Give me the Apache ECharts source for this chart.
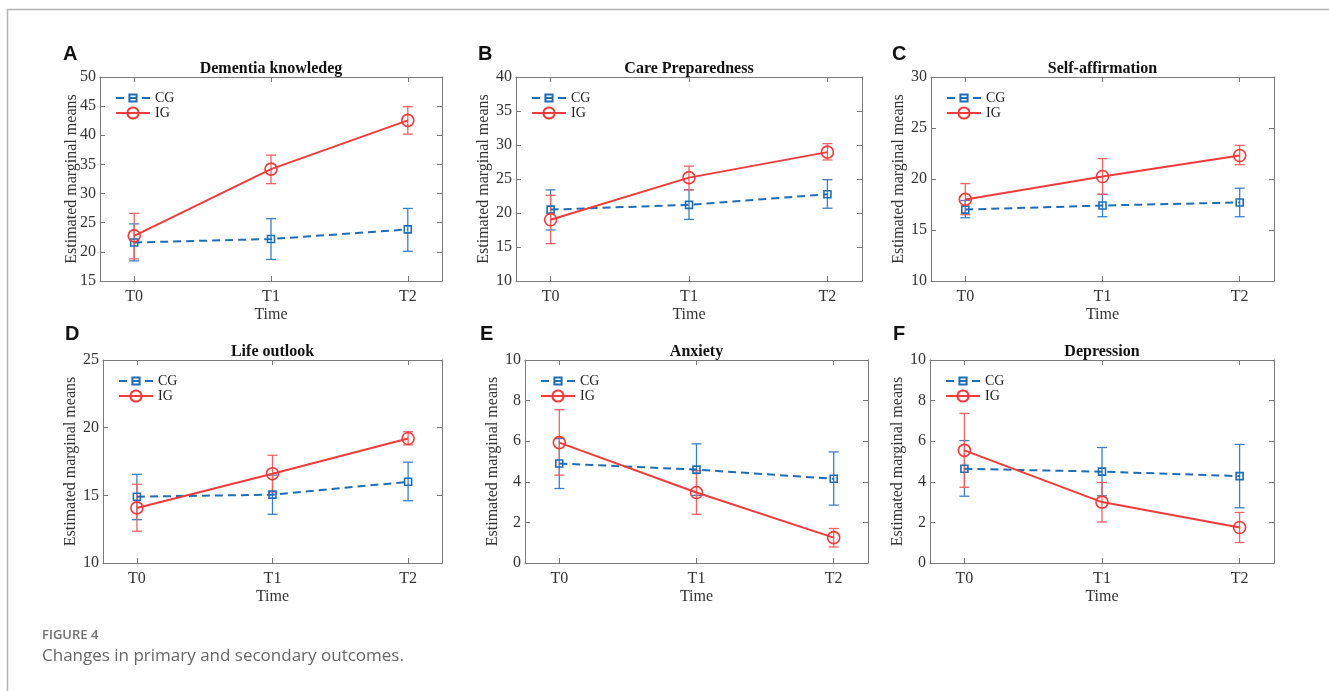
<!DOCTYPE html>
<html><head><meta charset="utf-8">
<script src="https://cdn.jsdelivr.net/npm/echarts@6/dist/echarts.min.js"></script>
<style>html,body{margin:0;padding:0;background:#fff}#c{width:1329px;height:691px}</style>
</head><body><div id="c"></div>
<script>
// ---------- data ----------
const timeLabels = ['T0', 'T1', 'T2'];
const timeValues = [0, 1, 2];
const panelLetters = ['A', 'B', 'C', 'D', 'E', 'F'];
const panelTitles = ['Dementia knowledeg', 'Care Preparedness', 'Self-affirmation', 'Life outlook', 'Anxiety', 'Depression'];
const yMin = [15, 10, 10, 10, 0, 0];
const yMax = [50, 40, 30, 25, 10, 10];
const yStep = [5, 5, 5, 5, 2, 2];

const cgMean = [[21.6, 22.2, 23.85], [20.5, 21.2, 22.75], [17.0, 17.4, 17.7], [14.9, 15.05, 16.0], [4.9, 4.6, 4.15], [4.64, 4.5, 4.28]];
const cgLow  = [[18.45, 18.7, 20.1], [17.5, 19.05, 20.7], [16.2, 16.3, 16.3], [13.2, 13.6, 14.6], [3.67, 3.33, 2.85], [3.29, 3.31, 2.72]];
const cgHigh = [[24.8, 25.7, 27.45], [23.4, 23.4, 24.9], [17.9, 18.5, 19.1], [16.55, 16.5, 17.45], [6.13, 5.87, 5.47], [6.03, 5.69, 5.84]];
const igMean = [[22.75, 34.2, 42.55], [19.0, 25.2, 28.95], [18.0, 20.25, 22.3], [14.07, 16.6, 19.2], [5.93, 3.47, 1.25], [5.55, 3.0, 1.75]];
const igLow  = [[18.8, 31.7, 40.2], [15.5, 23.4, 27.8], [16.5, 18.5, 21.4], [12.35, 15.25, 18.73], [4.33, 2.4, 0.79], [3.73, 2.02, 1.01]];
const igHigh = [[26.6, 36.6, 44.9], [22.6, 26.9, 30.2], [19.55, 22.0, 23.3], [15.82, 17.96, 19.7], [7.55, 4.55, 1.7], [7.37, 3.97, 2.49]];

// ---------- layout & style ----------
const gridBoxes = [[100, 77, 342, 204], [516, 77, 346, 204], [931, 77, 343, 204],
                   [103, 360, 339, 203], [525, 360, 343, 203], [930, 360, 344, 203]];
const yNameGaps = [20, 22, 22, 22, 22, 22];
const yNameMove = [false, true, true, true, true, true];
const letterPos = [[63, 55], [478, 55], [892, 55], [65, 335], [480, 335], [893, 335]];
const BLUE = '#1f6db5', BLUE_ERR = '#3a80c6';
const RED = '#ef3b3b', RED_ERR = '#f06464';
const AXIS = '#7a7a7a';
const SERIF = '"Liberation Serif", "Times New Roman", serif';

function errItem(color) {
  return function (params, api) {
    const x = api.value(0), lo = api.value(1), hi = api.value(2);
    const p1 = api.coord([x, lo]), p2 = api.coord([x, hi]);
    const w = 5, st = { stroke: color, lineWidth: 1.3 };
    return { type: 'group', children: [
      { type: 'line', shape: { x1: p1[0], y1: p1[1], x2: p2[0], y2: p2[1] }, style: st },
      { type: 'line', shape: { x1: p1[0] - w, y1: p1[1], x2: p1[0] + w, y2: p1[1] }, style: st },
      { type: 'line', shape: { x1: p2[0] - w, y1: p2[1], x2: p2[0] + w, y2: p2[1] }, style: st }
    ]};
  };
}

const grid = [], xAxis = [], yAxis = [], series = [], title = [], legend = [], graphic = [];

gridBoxes.forEach((b, i) => {
  grid.push({ left: b[0], top: b[1], width: b[2], height: b[3] });
  const axisLine = { show: true, onZero: false, lineStyle: { color: AXIS, width: 1 } };
  xAxis.push({
    type: 'value', gridIndex: i, position: 'bottom', min: -0.25, max: 2.25,
    axisLine, splitLine: { show: false },
    axisTick: { inside: true, length: 5, lineStyle: { color: AXIS }, customValues: timeValues },
    axisLabel: { customValues: timeValues, formatter: v => timeLabels[Math.round(v)], margin: 8,
                 fontFamily: SERIF, fontSize: 16, color: '#333' },
    name: 'Time', nameLocation: 'middle', nameGap: 26,
    nameTextStyle: { fontFamily: SERIF, fontSize: 16, color: '#333' }
  });
  xAxis.push({
    type: 'value', gridIndex: i, position: 'top', min: -0.25, max: 2.25,
    axisLine, splitLine: { show: false },
    axisTick: { inside: true, length: 5, lineStyle: { color: AXIS }, customValues: timeValues },
    axisLabel: { show: false, customValues: timeValues }
  });
  yAxis.push({
    type: 'value', gridIndex: i, position: 'left', min: yMin[i], max: yMax[i], interval: yStep[i],
    axisLine, splitLine: { show: false },
    axisTick: { inside: true, length: 5, lineStyle: { color: AXIS } },
    axisLabel: { margin: 4, fontFamily: SERIF, fontSize: 16, color: '#333' },
    name: 'Estimated marginal means', nameLocation: 'middle', nameGap: yNameGaps[i],
    nameMoveOverlap: yNameMove[i],
    nameTextStyle: { fontFamily: SERIF, fontSize: 16, color: '#333' }
  });
  yAxis.push({
    type: 'value', gridIndex: i, position: 'right', min: yMin[i], max: yMax[i], interval: yStep[i],
    axisLine, splitLine: { show: false },
    axisTick: { inside: true, length: 5, lineStyle: { color: AXIS } },
    axisLabel: { show: false }
  });

  const xi = 2 * i, yi = 2 * i;
  series.push({
    type: 'custom', name: 'CG err', xAxisIndex: xi, yAxisIndex: yi, renderItem: errItem(BLUE_ERR),
    encode: { x: 0, y: [1, 2] }, silent: true, z: 2,
    data: timeValues.map((t, k) => [t, cgLow[i][k], cgHigh[i][k]])
  });
  series.push({
    type: 'custom', name: 'IG err', xAxisIndex: xi, yAxisIndex: yi, renderItem: errItem(RED_ERR),
    encode: { x: 0, y: [1, 2] }, silent: true, z: 2,
    data: timeValues.map((t, k) => [t, igLow[i][k], igHigh[i][k]])
  });
  series.push({
    type: 'line', name: 'CG', xAxisIndex: xi, yAxisIndex: yi, z: 3,
    data: timeValues.map((t, k) => [t, cgMean[i][k]]),
    symbol: 'rect', symbolSize: 7, color: BLUE,
    itemStyle: { color: 'rgba(255,255,255,0)', borderColor: BLUE, borderWidth: 1.6 },
    lineStyle: { color: BLUE, width: 2, type: [8, 5] },
    emphasis: { disabled: true }, animation: false
  });
  series.push({
    type: 'line', name: 'IG', xAxisIndex: xi, yAxisIndex: yi, z: 3,
    data: timeValues.map((t, k) => [t, igMean[i][k]]),
    symbol: 'circle', symbolSize: 12, color: RED,
    itemStyle: { color: 'rgba(255,255,255,0)', borderColor: RED, borderWidth: 1.6 },
    lineStyle: { color: RED, width: 2 },
    emphasis: { disabled: true }, animation: false
  });

  title.push({
    text: panelTitles[i], left: b[0] + b[2] / 2, top: b[1] - 16, textAlign: 'center',
    padding: 0,
    textStyle: { fontFamily: SERIF, fontSize: 16, fontWeight: 'bold', color: '#111' }
  });
  const legBase = { orient: 'vertical', left: b[0] + 15, itemWidth: 34, padding: 0, selectedMode: false,
                    textStyle: { fontFamily: SERIF, fontSize: 14, color: '#222' } };
  legend.push(Object.assign({}, legBase, { data: ['CG'], top: b[1] + 14, itemHeight: 9 }));
  legend.push(Object.assign({}, legBase, { data: ['IG'], top: b[1] + 29, itemHeight: 14 }));
  graphic.push({
    type: 'text', left: letterPos[i][0], top: letterPos[i][1] - 11,
    style: { text: panelLetters[i], font: 'bold 20px "Liberation Sans", Arial, sans-serif', fill: '#111' }
  });
});

graphic.push({ type: 'line', shape: { x1: 7, y1: 9.5, x2: 1329, y2: 9.5 }, style: { stroke: '#b3b3b3', lineWidth: 1.5 } });
graphic.push({ type: 'line', shape: { x1: 7.5, y1: 9, x2: 7.5, y2: 691 }, style: { stroke: '#b3b3b3', lineWidth: 1.5 } });
graphic.push({ type: 'text', left: 42, top: 629,
  style: { text: 'FIGURE 4', font: '600 13px "Open Sans", sans-serif', fill: '#707070' } });
graphic.push({ type: 'text', left: 42, top: 648,
  style: { text: 'Changes in primary and secondary outcomes.', font: '400 17px "Open Sans", sans-serif', fill: '#666' } });

const chart = echarts.init(document.getElementById('c'), null, { renderer: 'canvas' });
chart.setOption({
  animation: false, backgroundColor: '#fff',
  grid, xAxis, yAxis, series, title, legend, graphic
});
</script></body></html>
